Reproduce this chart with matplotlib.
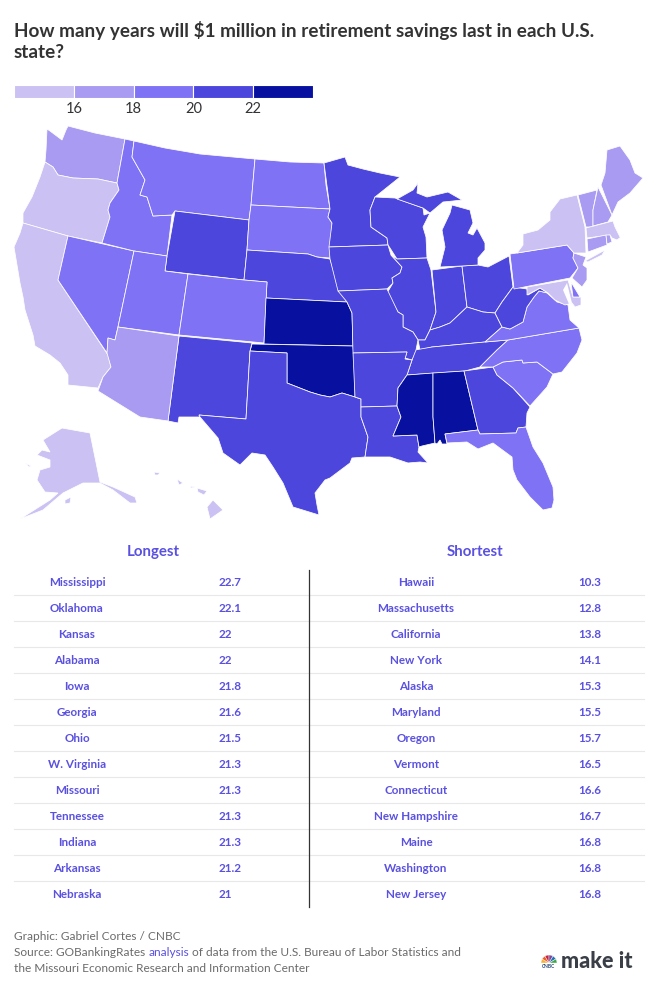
import matplotlib
matplotlib.use("Agg")
import matplotlib.pyplot as plt
from matplotlib.colors import BoundaryNorm, ListedColormap
from matplotlib.patches import Polygon, Wedge

plt.rcParams["font.family"] = ["Lato", "DejaVu Sans"]

# table values
longest_states = ["Mississippi", "Oklahoma", "Kansas", "Alabama", "Iowa", "Georgia", "Ohio",
                  "W. Virginia", "Missouri", "Tennessee", "Indiana", "Arkansas", "Nebraska"]
longest_years = [22.7, 22.1, 22, 22, 21.8, 21.6, 21.5, 21.3, 21.3, 21.3, 21.3, 21.2, 21]
shortest_states = ["Hawaii", "Massachusetts", "California", "New York", "Alaska", "Maryland", "Oregon",
                   "Vermont", "Connecticut", "New Hampshire", "Maine", "Washington", "New Jersey"]
shortest_years = [10.3, 12.8, 13.8, 14.1, 15.3, 15.5, 15.7, 16.5, 16.6, 16.7, 16.8, 16.8, 16.8]

# states that are not in the table, estimated from their colour band
other_years = {"Nevada": 18.6, "Idaho": 19.0, "Montana": 18.8, "Utah": 18.9, "Colorado": 18.4,
               "N. Dakota": 19.2, "S. Dakota": 19.1, "Pennsylvania": 18.7, "Virginia": 18.5,
               "N. Carolina": 19.4, "S. Carolina": 19.5, "Florida": 18.3, "Delaware": 18.1,
               "Arizona": 17.4, "Rhode Island": 16.9, "Wyoming": 20.4, "Minnesota": 20.2,
               "Wisconsin": 20.6, "Illinois": 20.5, "Michigan": 20.7, "Michigan UP": 20.7,
               "Kentucky": 20.9, "Louisiana": 20.8, "Texas": 20.3, "New Mexico": 20.1}

band_edges = [14, 16, 18, 20, 22, 24]
band_colors = ["#cbc1f3", "#a89bf1", "#7f72f5", "#4c46dc", "#0810a0"]
purple = "#5a51e0"

# outlines, in pixels
shapes = {
    "Washington": [(47, 129), (50, 131), (62, 140), (66, 130), (68, 126), (95, 133), (125, 139), (117, 183), (98, 179), (73, 178), (58, 175),
                   (53, 167), (45, 162), (46, 150)],
    "Oregon": [(45, 162), (53, 167), (58, 175), (73, 178), (98, 179), (117, 183), (119, 190), (110, 203), (108, 210),
               (110, 217), (102, 243), (68, 236), (23, 223), (23, 213), (32, 197), (40, 177)],
    "California": [(23, 223), (68, 236), (58, 280), (108, 355), (111, 367), (103, 377), (98, 388), (68, 385), (68, 375),
                   (60, 363), (50, 355), (35, 346), (33, 335), (25, 310), (23, 297), (20, 283), (14, 247), (20, 233)],
    "Nevada": [(68, 236), (134, 251), (118, 327), (115, 340), (108, 338), (107, 353), (58, 280)],
    "Idaho": [(125, 139), (134, 141), (132, 157), (145, 180), (140, 195), (147, 197), (153, 216), (172, 215), (167, 256),
              (134, 251), (102, 243), (110, 217), (108, 210), (110, 203), (119, 190), (117, 183)],
    "Montana": [(134, 141), (165, 148), (200, 154), (255, 159), (251, 205), (249, 220), (175, 211), (172, 215), (153, 216),
                (147, 197), (140, 195), (145, 180), (132, 157)],
    "Wyoming": [(175, 211), (249, 220), (247, 250), (244, 280), (165, 271), (167, 256)],
    "N. Dakota": [(255, 159), (290, 162), (324, 163), (326, 185), (330, 209), (251, 205)],
    "S. Dakota": [(251, 205), (330, 209), (328, 217), (332, 223), (330, 258), (317, 257), (308, 254), (247, 250), (249, 220)],
    "Nebraska": [(247, 250), (308, 254), (317, 257), (330, 259), (338, 285), (347, 302), (266, 298), (267, 282), (244, 280)],
    "Utah": [(134, 251), (167, 256), (165, 271), (188, 274), (179, 335), (118, 327)],
    "Colorado": [(188, 274), (244, 280), (267, 282), (264, 343), (179, 335)],
    "Kansas": [(266, 298), (347, 302), (352, 313), (353, 346), (264, 344)],
    "Oklahoma": [(252, 344), (353, 346), (355, 370), (355, 397), (342, 393), (330, 397), (320, 395), (310, 392), (287, 383),
                 (287, 353), (250, 351)],
    "New Mexico": [(179, 336), (252, 343), (250, 351), (246, 419), (199, 415), (200, 417), (179, 417), (178, 423), (168, 421)],
    "Arizona": [(118, 327), (179, 336), (168, 421), (140, 417), (98, 391), (103, 377), (111, 367), (107, 353), (108, 338), (115, 340)],
    "Texas": [(250, 351), (287, 353), (287, 383), (310, 392), (320, 395), (330, 397), (342, 393), (355, 397), (361, 399), (361, 417),
              (368, 437), (365, 457), (352, 458), (350, 463), (330, 478), (325, 480), (315, 493), (317, 505), (319, 515),
              (293, 507), (283, 483), (273, 467), (265, 455), (252, 453), (240, 465), (223, 453), (218, 438), (200, 417),
              (199, 415), (246, 419)],
    "Minnesota": [(324, 163), (345, 157), (348, 165), (363, 169), (380, 173), (400, 177), (375, 197), (370, 210), (371, 227),
                  (387, 238), (388, 245), (329, 247), (332, 223), (328, 217), (330, 209)],
    "Wisconsin": [(375, 197), (395, 198), (423, 208), (424, 215), (430, 213), (423, 227), (426, 237), (427, 258), (397, 259),
                  (390, 248), (388, 245), (387, 238), (371, 227), (370, 210)],
    "Iowa": [(329, 247), (388, 245), (391, 255), (402, 267), (400, 273), (392, 278), (393, 283), (387, 289), (338, 291), (330, 259)],
    "Illinois": [(397, 259), (427, 258), (431, 270), (436, 312), (430, 330), (425, 340), (418, 340), (413, 332), (403, 327),
                 (403, 315), (398, 312), (387, 293), (393, 283), (392, 278), (400, 273), (402, 267), (391, 255)],
    "Indiana": [(432, 270), (462, 266), (467, 307), (450, 323), (440, 327), (430, 330), (436, 312)],
    "Ohio": [(462, 266), (478, 265), (488, 267), (509, 256), (513, 287), (502, 302), (495, 313), (483, 312), (467, 307)],
    "Michigan": [(440, 267), (445, 247), (442, 230), (450, 213), (452, 205), (470, 210), (473, 223), (468, 233), (473, 235),
                 (477, 228), (485, 243), (485, 250), (478, 258), (478, 265), (462, 266)],
    "Michigan UP": [(397, 199), (413, 190), (418, 183), (417, 193), (427, 197), (448, 192), (462, 200), (453, 201), (443, 202),
                    (430, 213), (423, 208)],
    "Kentucky": [(467, 307), (483, 312), (495, 313), (502, 327), (485, 342), (432, 347), (420, 350), (418, 340), (425, 340),
                 (430, 330), (440, 327), (450, 323)],
    "Tennessee": [(415, 350), (432, 347), (485, 342), (508, 340), (497, 350), (480, 367), (465, 371), (407, 375), (412, 360)],
    "Missouri": [(338, 291), (387, 289), (398, 312), (403, 315), (403, 327), (413, 332), (418, 340), (416, 350), (412, 360),
                 (405, 358), (407, 352), (353, 353), (352, 313), (347, 302)],
    "Arkansas": [(353, 353), (407, 352), (405, 359), (412, 360), (407, 375), (398, 388), (397, 406), (361, 407), (361, 399), (355, 397)],
    "Louisiana": [(361, 407), (397, 406), (401, 417), (393, 436), (417, 435), (419, 447), (418, 452), (428, 463), (420, 462),
                  (408, 463), (390, 457), (365, 457), (368, 437), (361, 417)],
    "Mississippi": [(407, 375), (433, 373), (433, 417), (435, 443), (422, 446), (419, 447), (417, 435), (393, 436), (401, 417),
                    (397, 406), (398, 388)],
    "Alabama": [(433, 373), (464, 371), (478, 430), (445, 434), (447, 444), (442, 444), (440, 440), (437, 444), (435, 443), (433, 417)],
    "Georgia": [(464, 371), (493, 367), (497, 375), (513, 388), (530, 407), (527, 413), (526, 427), (518, 428), (516, 433),
                (480, 434), (478, 430)],
    "Florida": [(445, 434), (478, 430), (480, 434), (516, 433), (518, 428), (526, 427), (533, 447), (543, 463), (553, 487),
                (554, 500), (552, 508), (543, 510), (530, 497), (517, 480), (513, 470), (512, 457), (493, 443), (478, 449),
                (467, 442), (447, 443)],
    "S. Carolina": [(493, 367), (503, 362), (522, 360), (523, 363), (537, 362), (553, 374), (547, 387), (530, 406), (513, 388), (497, 375)],
    "N. Carolina": [(508, 340), (579, 328), (582, 340), (577, 353), (562, 372), (553, 374), (537, 362), (523, 363), (522, 360),
                    (503, 362), (493, 367), (480, 367), (497, 350)],
    "Virginia": [(485, 342), (502, 327), (510, 329), (523, 322), (527, 307), (534, 297), (539, 291), (547, 293), (557, 302),
                 (568, 305), (570, 320), (579, 328), (508, 340)],
    "W. Virginia": [(513, 287), (527, 289), (528, 295), (540, 288), (548, 293), (539, 291), (534, 297), (527, 307), (523, 322), (510, 329),
                    (502, 327), (495, 313), (502, 302)],
    "Maryland": [(527, 287), (568, 280), (573, 297), (581, 297), (581, 305), (575, 307), (572, 303), (565, 305), (555, 300),
                 (548, 293), (540, 288), (527, 295)],
    "Delaware": [(571, 282), (580, 297), (573, 297)],
    "Pennsylvania": [(510, 254), (517, 253), (567, 245), (574, 253), (573, 258), (578, 268), (570, 278), (514, 289)],
    "New Jersey": [(574, 253), (586, 257), (583, 265), (587, 268), (587, 280), (582, 287), (572, 278), (578, 268), (573, 258)],
    "New York": [(517, 253), (523, 245), (523, 234), (538, 230), (550, 220), (550, 212), (560, 199), (577, 195), (585, 227),
                 (586, 253), (574, 253), (567, 245)],
    "Long Island": [(585, 261), (605, 250), (602, 255), (588, 262)],
    "Vermont": [(578, 195), (597, 190), (593, 210), (593, 227), (586, 227)],
    "New Hampshire": [(598, 187), (612, 215), (608, 222), (593, 226), (593, 210)],
    "Maine": [(601, 185), (605, 173), (607, 150), (620, 146), (630, 160), (635, 173), (643, 178), (630, 193), (618, 202), (612, 215)],
    "Massachusetts": [(586, 228), (613, 221), (615, 227), (620, 237), (625, 234), (617, 240), (612, 238), (610, 235), (587, 238)],
    "Connecticut": [(587, 239), (606, 235), (607, 245), (588, 252)],
    "Rhode Island": [(606, 235), (610, 235), (612, 242), (607, 244)],
    "Alaska": [(43, 440), (62, 428), (90, 433), (100, 482), (113, 487), (135, 497), (137, 503), (130, 503), (113, 490), (100, 483),
               (83, 483), (63, 493), (43, 510), (20, 519), (50, 500), (58, 493), (45, 492), (37, 480), (40, 470), (50, 467),
               (50, 460), (37, 455), (42, 450), (50, 452)],
    "Kodiak": [(65, 500), (71, 497), (70, 503), (65, 504)],
    "St Lawrence": [(25, 463), (31, 466), (29, 467)],
    "Hawaii": [(213, 500), (223, 510), (210, 519), (207, 507)],
    "Maui": [(197, 488), (207, 491), (204, 495), (198, 492)],
    "Oahu": [(177, 479), (183, 483), (179, 485)],
    "Kauai": [(154, 472), (160, 473), (158, 475), (155, 475)],
    "Molokai": [(190, 486), (195, 487), (191, 488)],
}
# islands take the number of their state
same_state = {"Long Island": "New York", "Kodiak": "Alaska", "St Lawrence": "Alaska", "Maui": "Hawaii", "Oahu": "Hawaii",
              "Kauai": "Hawaii", "Molokai": "Hawaii", "Michigan UP": "Michigan"}

years = dict(other_years)
years.update(zip(longest_states, longest_years))
years.update(zip(shortest_states, shortest_years))

cmap = ListedColormap(band_colors)
norm = BoundaryNorm(band_edges, cmap.N)

fig = plt.figure(figsize=(6.64, 9.92), dpi=100)
ax = fig.add_axes([0, 0, 1, 1])
ax.set_xlim(0, 664)
ax.set_ylim(992, 0)
ax.axis("off")

# title
ax.text(14, 30, "How many years will $1 million in retirement savings last in each U.S.", fontsize=13.6, fontweight="bold",
        color="#333333", va="center", parse_math=False)
ax.text(14, 53, "state?", fontsize=13.6, fontweight="bold", color="#333333", va="center")

# map
for name, pts in shapes.items():
    value = years[same_state.get(name, name)]
    ax.add_patch(Polygon(pts, closed=True, facecolor=cmap(norm(value)), edgecolor="#ffffff", linewidth=0.55, alpha=1))
# chesapeake bay
ax.add_patch(Polygon([(567, 283), (572, 303), (569, 304), (563, 290)], closed=True, facecolor="white", edgecolor="none"))

# legend
leg = fig.add_axes([14 / 664, 1 - 98 / 992, 299 / 664, 13 / 992])
leg.bar(band_edges[:-1], 1, width=2, align="edge", color=band_colors, edgecolor="white", linewidth=0.8)
leg.set_xlim(band_edges[0], band_edges[-1])
leg.set_ylim(0, 1)
leg.set_yticks([])
leg.set_xticks(band_edges[1:-1])
leg.tick_params(length=0, pad=3, labelsize=10.5, labelcolor="#333333")
for s in leg.spines.values():
    s.set_visible(False)

# table
ax.text(153, 552, "Longest", fontsize=10.8, fontweight="bold", color=purple, ha="center", va="center")
ax.text(475, 552, "Shortest", fontsize=10.8, fontweight="bold", color=purple, ha="center", va="center")
for i in range(len(longest_states)):
    y = 582 + 26 * i
    ax.text(77, y, longest_states[i], fontsize=8.4, fontweight="bold", color=purple, ha="center", va="center")
    ax.text(219, y, f"{longest_years[i]:g}", fontsize=8.4, fontweight="bold", color=purple, va="center")
    ax.text(416, y, shortest_states[i], fontsize=8.4, fontweight="bold", color=purple, ha="center", va="center")
    ax.text(578, y, f"{shortest_years[i]:g}", fontsize=8.4, fontweight="bold", color=purple, va="center")
    if i < len(longest_states) - 1:
        ax.plot([14, 644], [y + 13, y + 13], color="#e8e8e8", lw=0.8)
ax.plot([308.5, 308.5], [570, 907], color="#333333", lw=0.9)

# footer
foot = "#6b6b6b"
ax.text(14, 936, "Graphic: Gabriel Cortes / CNBC", fontsize=8.6, color=foot, va="center")
t1 = ax.text(14, 952, "Source: GOBankingRates ", fontsize=8.6, color=foot, va="center")
t2 = ax.annotate("analysis", xy=(1, 0), xycoords=t1, va="bottom", fontsize=8.6, color=purple)
ax.annotate(" of data from the U.S. Bureau of Labor Statistics and", xy=(1, 0), xycoords=t2, va="bottom", fontsize=8.6, color=foot)
ax.text(14, 968, "the Missouri Economic Research and Information Center", fontsize=8.6, color=foot, va="center")

# logo
ax.text(561, 961, "make it", fontsize=15.5, fontweight="black", color="#3a3f47", va="center")
for k, c in enumerate(["#f5b335", "#e8622a", "#c8213f", "#7b4a9b", "#2a6fb5", "#3fa648"]):
    ax.add_patch(Wedge((549, 963), 8, 180 + k * 30, 210 + k * 30, facecolor=c, edgecolor="white", linewidth=0.3))
ax.text(549, 967, "CNBC", fontsize=3.5, fontweight="bold", color="#2a4a7a", ha="center", va="center")

fig.savefig("out.png", dpi=100)
